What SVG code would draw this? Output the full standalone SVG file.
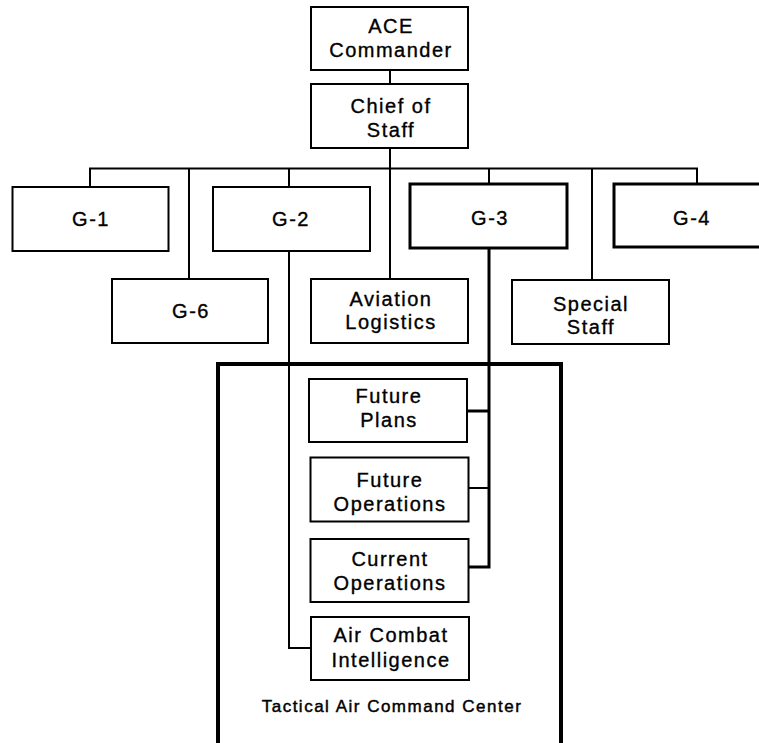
<svg xmlns="http://www.w3.org/2000/svg" width="759" height="743" viewBox="0 0 759 743">
<style>
.box{fill:#fff;stroke:#000;stroke-width:2}
.thick{stroke-width:3}
.ln{fill:none;stroke:#000;stroke-width:2}
.ln3{fill:none;stroke:#000;stroke-width:3}
text{font-family:"Liberation Sans",Arial,sans-serif;font-size:20px;letter-spacing:1.5px;text-anchor:middle;fill:#000;stroke:#000;stroke-width:0.35}
.small{font-size:17px;stroke-width:0.45}
</style>
<rect width="759" height="743" fill="#fff"/>
<g id="connectors">
<line class="ln" x1="390" y1="70" x2="390" y2="84"/>
<line class="ln" x1="390" y1="148" x2="390" y2="279"/>
<polyline class="ln" points="90,187 90,168.5 697,168.5 697,183"/>
<line class="ln" x1="189" y1="168.5" x2="189" y2="279"/>
<line class="ln" x1="289" y1="168.5" x2="289" y2="187"/>
<line class="ln" x1="489" y1="168.5" x2="489" y2="183"/>
<line class="ln" x1="592" y1="168.5" x2="592" y2="280"/>
<polyline class="ln" points="289,251 289,648 311,648"/>
<polyline class="ln3" points="489,248 489,567 468,567"/>
<line class="ln3" x1="468" y1="411" x2="489" y2="411"/>
<line class="ln" x1="468" y1="488" x2="489" y2="488"/>
</g>
<g id="tacc">
<rect x="218" y="364" width="343" height="382" fill="none" stroke="#000" stroke-width="4"/>
<text class="small" x="392" y="711.5">Tactical Air Command Center</text>
</g>
<g id="ace">
<rect class="box" x="311" y="7" width="157" height="63"/>
<text x="391" y="33">ACE</text>
<text x="391" y="57">Commander</text>
</g>
<g id="chief">
<rect class="box" x="311" y="84" width="157" height="64"/>
<text x="391" y="113">Chief of</text>
<text x="391" y="137">Staff</text>
</g>
<g id="g1">
<rect class="box" x="12.5" y="187" width="156" height="64"/>
<text x="91" y="226">G-1</text>
</g>
<g id="g2">
<rect class="box" x="213" y="187" width="157" height="64"/>
<text x="291" y="226">G-2</text>
</g>
<g id="g3">
<rect class="box thick" x="410" y="184" width="157" height="64"/>
<text x="490" y="225">G-3</text>
</g>
<g id="g4">
<rect class="box thick" x="614" y="184" width="158" height="63"/>
<text x="692" y="225">G-4</text>
</g>
<g id="g6">
<rect class="box" x="112" y="279" width="156" height="64"/>
<text x="191" y="318">G-6</text>
</g>
<g id="avlog">
<rect class="box" x="311" y="279" width="157" height="64"/>
<text x="391" y="305.5">Aviation</text>
<text x="391" y="329">Logistics</text>
</g>
<g id="special">
<rect class="box" x="512" y="280" width="157" height="64"/>
<text x="591" y="310.5">Special</text>
<text x="591" y="334">Staff</text>
</g>
<g id="futureplans">
<rect class="box" x="309" y="379" width="158" height="63"/>
<text x="389" y="402.5">Future</text>
<text x="389" y="426.5">Plans</text>
</g>
<g id="futureops">
<rect class="box" x="310.5" y="457.5" width="158" height="64" stroke-width="2.5"/>
<text x="390" y="486.5">Future</text>
<text x="390" y="511">Operations</text>
</g>
<g id="currentops">
<rect class="box" x="310.5" y="539" width="158" height="63"/>
<text x="390" y="565.5">Current</text>
<text x="390" y="590">Operations</text>
</g>
<g id="aci">
<rect class="box" x="311" y="617" width="158" height="63"/>
<text x="391" y="641.5">Air Combat</text>
<text x="391" y="666.5">Intelligence</text>
</g>
</svg>
